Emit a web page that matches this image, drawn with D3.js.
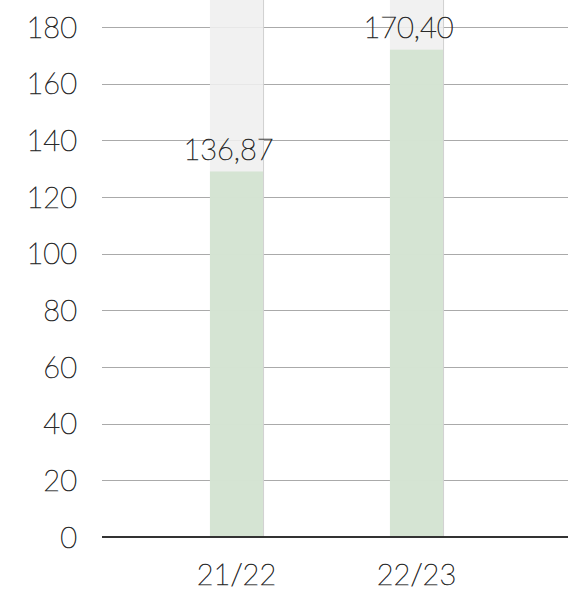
<!DOCTYPE html>
<html>
<head>
<meta charset="utf-8">
<script src="https://cdn.jsdelivr.net/npm/d3@7"></script>
<style>
  html, body { margin: 0; padding: 0; background: #fff; }
  svg text { font-family: "Lato", "Open Sans", sans-serif; font-weight: 200; fill: #2a2a2a; stroke: #2a2a2a; stroke-width: 0.7px; }
</style>
</head>
<body>
<svg id="chart" width="568" height="595"></svg>
<script>
const categories = ["21/22", "22/23"];
const greenValues = [129, 172];
const valueLabels = ["136,87", "170,40"];
const yTicks = [0, 20, 40, 60, 80, 100, 120, 140, 160, 180];

const W = 568, H = 595;
const svg = d3.select("#chart");

const y = d3.scaleLinear().domain([0, 180]).range([537, 27]);
const x = d3.scaleBand().domain(categories).range([146.5, 506.5])
  .paddingInner(0.705).paddingOuter(0.3525);

// gridlines
svg.append("g").selectAll("line").data(yTicks.filter(d => d > 0)).join("line")
  .attr("x1", 102).attr("x2", W)
  .attr("y1", d => Math.round(y(d)) + 0.5).attr("y2", d => Math.round(y(d)) + 0.5)
  .attr("stroke", "#aaaaaa").attr("stroke-width", 1);

// background columns
svg.append("g").selectAll("rect").data(categories).join("rect")
  .attr("x", d => x(d)).attr("width", x.bandwidth())
  .attr("y", 0).attr("height", y(0))
  .attr("fill", "#efefef").attr("opacity", 0.88);

// green bars
svg.append("g").selectAll("rect").data(categories).join("rect")
  .attr("x", d => x(d)).attr("width", x.bandwidth())
  .attr("y", (d, i) => y(greenValues[i])).attr("height", (d, i) => y(0) - y(greenValues[i]))
  .attr("fill", "#d3e3d0").attr("opacity", 0.92);

// subtle right edge shadow on columns
svg.append("g").selectAll("line").data(categories).join("line")
  .attr("x1", d => x(d) + x.bandwidth() + 0.5).attr("x2", d => x(d) + x.bandwidth() + 0.5)
  .attr("y1", 0).attr("y2", y(0))
  .attr("stroke", "#d0d0d0").attr("stroke-width", 1);

// baseline axis
svg.append("line").attr("x1", 102).attr("x2", W)
  .attr("y1", y(0)).attr("y2", y(0))
  .attr("stroke", "#333").attr("stroke-width", 2);

// y tick labels
svg.append("g").selectAll("text").data(yTicks).join("text")
  .attr("x", 77).attr("y", d => y(d) + 10.5)
  .attr("text-anchor", "end").attr("font-size", 29)
  .text(d => d);

// category labels
svg.append("g").selectAll("text").data(categories).join("text")
  .attr("x", d => x(d) + x.bandwidth() / 2).attr("y", 585)
  .attr("text-anchor", "middle").attr("font-size", 29)
  .text(d => d);

// value labels
svg.append("g").selectAll("text").data(categories).join("text")
  .attr("x", d => x(d) + x.bandwidth() / 2 - 8)
  .attr("y", (d, i) => y(greenValues[i]) - 12)
  .attr("text-anchor", "middle").attr("font-size", 29)
  .text((d, i) => valueLabels[i]);
</script>
</body>
</html>
